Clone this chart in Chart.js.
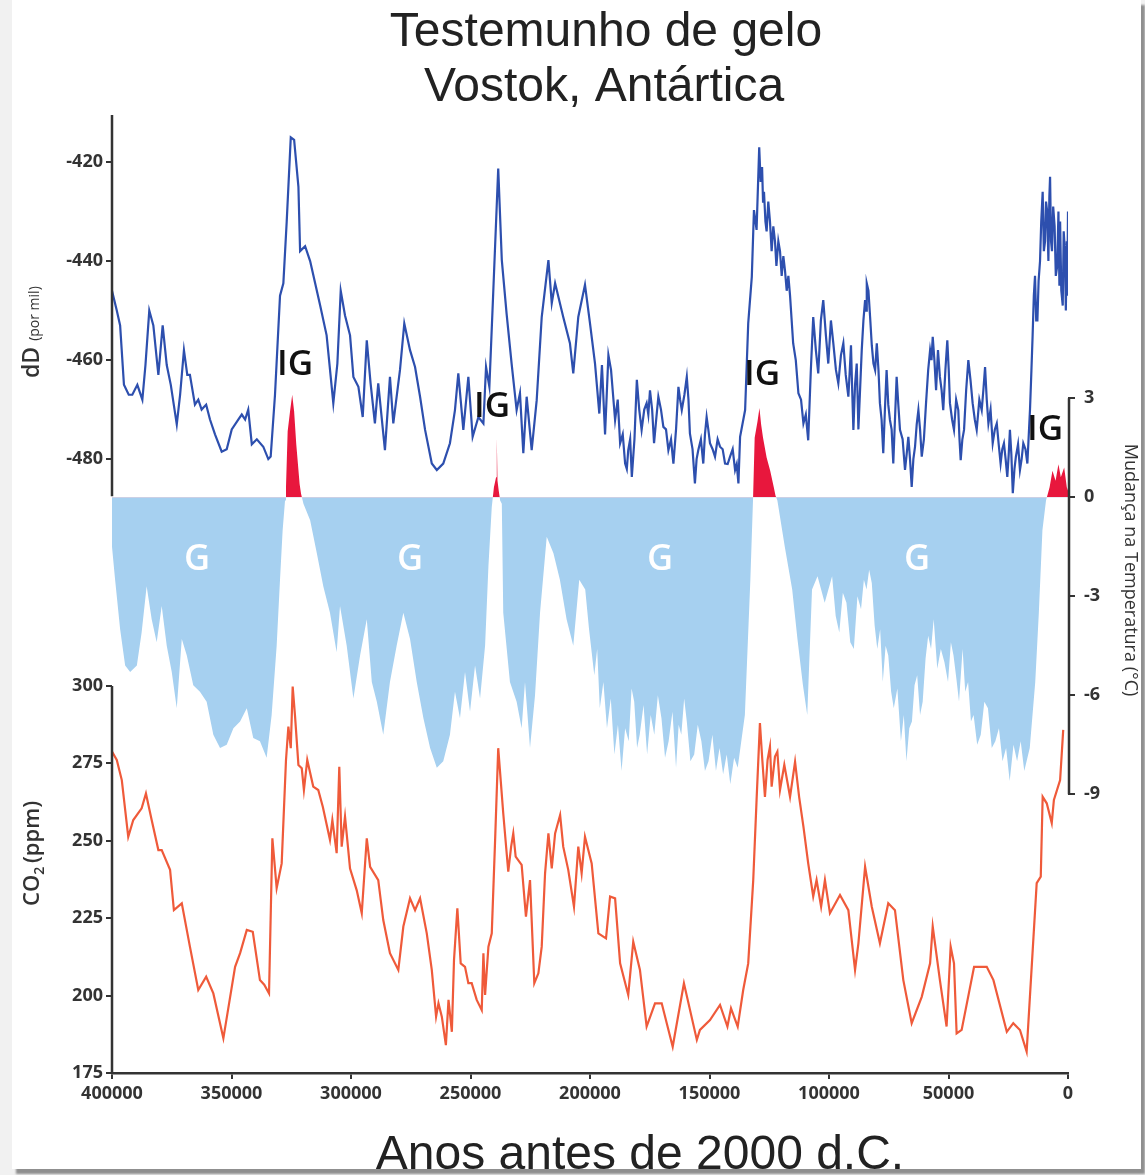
<!DOCTYPE html>
<html lang="pt">
<head>
    <meta charset="UTF-8">
    <title>Testemunho de gelo - Vostok, Antártica</title>
    <script src="https://cdn.jsdelivr.net/npm/chart.js"></script>
    <style>
        html, body { margin: 0; padding: 0; }
        body {
            width: 1145px;
            height: 1175px;
            background: #f1f1f1;
            position: relative;
            overflow: hidden;
        }
        .folha {
            position: absolute;
            left: 12px;
            top: 0;
            width: 1129px;
            height: 1169px;
            background: #fff;
            box-shadow: 4px 5px 2px #8f8f8f;
        }
        #grafico { position: absolute; left: 0; top: 0; }
    </style>
</head>
<body>
    <div class="folha"></div>
    <canvas id="grafico" width="1145" height="1175"></canvas>

    <script>
        // Deutério (dD, por mil) - anos em milhares antes de 2000
        const anosDD = [
            400, 398, 396.6, 395, 393, 391.5, 389.4, 387.3, 386, 384.4,
            382.7, 380.6, 378.8, 377.1, 375.4, 372.9, 371.5, 369.9, 368.5, 367.4,
            365.3, 363.9, 362.5, 360.6, 359, 356.9, 354.1, 352, 349.9, 347.1,
            345.7, 344.3, 343, 341.5, 339.4, 336.7, 334.6, 333.6, 331.8, 329.7,
            328.3, 326.9, 325.2, 323.8, 322, 321.3, 319.2, 317.1, 315, 312.9,
            310.2, 307.4, 305.7, 304.3, 302.5, 300.4, 299, 296.9, 295.1, 293.4,
            291.8, 290, 288.6, 285.8, 283.7, 282.3, 279.5, 277.7, 275.3, 273.2,
            271.1, 269, 266.2, 264.1, 261.4, 258.6, 256.5, 255.1, 253, 250.9,
            249.1, 246.7, 244.6, 243.5, 242.1, 240.5, 238.4, 236.9, 234.9, 232.8,
            230.7, 229.3, 227.9, 226.5, 224.4, 222.3, 220.2, 217.4, 216, 214.6,
            211.2, 208.4, 207, 204.9, 202.1, 200, 197.9, 196.1, 195, 193.7,
            192.3, 191.2, 189.5, 188.4, 187.4, 186.3, 185.3, 184.6, 184, 183.2,
            182.5, 181.4, 180.4, 179.4, 178.4, 177.3, 176.3, 175.6, 174.9, 174,
            173.2, 172.3, 171.4, 170.3, 169.3, 168.2, 167.2, 166.1, 165.1, 164,
            163, 162.3, 161.6, 160.5, 159.5, 158.8, 158.2, 157.1, 156.1, 155.4,
            154.7, 153.6, 152.6, 151.9, 151.2, 150.5, 149.8, 148.7, 147.7, 146.6,
            145.6, 144.5, 143.5, 142.4, 141.4, 140.3, 139.3, 138.6, 137.9, 137.2,
            135.1, 133.8, 132.3, 131.4, 130.3, 129.2, 128.6, 128, 127.6, 127.2,
            126.6, 126.1, 125.4, 124.7, 124, 123.3, 122.6, 122, 121.2, 120.5,
            119.8, 119.1, 118.4, 117.7, 117, 116.3, 115, 113.9, 112.8, 111.7,
            110.7, 109.7, 108.7, 107.6, 106.6, 105.5, 104.5, 103.4, 102.4, 101.3,
            100.3, 99.2, 98.2, 97.1, 96.1, 95, 94, 93, 91.9, 91.3,
            90.8, 90.3, 89.8, 89.1, 88.4, 88, 87.7, 87, 86.3, 85.6,
            84.9, 84.5, 84.2, 83.5, 82.8, 82.1, 81.4, 80.7, 80, 79.3,
            78.7, 78, 77.3, 76.6, 75.9, 75.2, 74.5, 73.8, 73.1, 72.4,
            71.7, 71, 70.3, 69.2, 68.2, 67.5, 66.8, 66.1, 65.4, 64.7,
            64, 63.3, 62.6, 61.9, 61.2, 60.3, 59.4, 58.5, 57.7, 57.1,
            56.6, 55.9, 55.2, 54.4, 53.6, 52.9, 52.2, 51.3, 50.5, 49.9,
            49.4, 48.5, 47.7, 46.8, 45.9, 45.4, 44.9, 44.2, 43.5, 42.6,
            41.7, 40.8, 39.9, 39, 38.2, 37.1, 36.1, 35.4, 34.7, 34,
            33.3, 32.4, 31.5, 30.6, 29.8, 29, 28.2, 27.5, 26.8, 26.1,
            25.4, 24.8, 24.3, 23.7, 23.1, 22.4, 21.8, 20.9, 20.1, 19.4,
            18.7, 17.8, 17, 15.9, 15.3, 14.8, 14.3, 13.8, 13.3, 12.8,
            12.3, 11.7, 11.2, 10.6, 10.1, 9.6, 9.2, 8.7, 8.2, 7.8,
            7.5, 7.1, 6.7, 6.2, 5.6, 5.1, 4.5, 4, 3.6, 3.3,
            2.8, 2.2, 1.8, 1.3, 0.9, 0.5, 0.3, 0];
        const valoresDD = [
            -446, -450, -453, -465, -467, -467, -465, -468, -461, -450,
            -453, -463, -453, -461, -465, -473, -467, -458, -463, -463,
            -469, -468, -470, -469, -472, -475, -478.5, -478, -474, -472,
            -471, -472, -470, -477, -476, -477.5, -480, -479.5, -467, -447,
            -444.5, -432, -415, -415.5, -425, -438, -437, -440, -444.5, -449,
            -455, -468.7, -460.7, -446, -451, -455, -463.4, -465.4, -471.5, -456,
            -464.7, -472.8, -464.7, -478.2, -463.4, -472.8, -462, -452.6, -458, -461.4,
            -467.4, -474.1, -480.9, -482.2, -480.9, -476.8, -470.1, -462.7, -474.1, -463.4,
            -475.5, -471.5, -472.8, -461.4, -465.4, -446.5, -421.3, -439.8, -450.6, -460.7,
            -470.1, -466.7, -478.8, -467.4, -478.2, -468.1, -451.3, -439.8, -448.5, -444.5,
            -451.3, -456.6, -462.7, -451.3, -444.8, -452.6, -460.7, -470.8, -461, -475,
            -459, -462, -472.1, -468, -476.8, -475, -480.9, -482, -478.2, -476,
            -483.6, -476, -464, -470, -474.1, -470, -468.7, -471, -466.1, -470,
            -476.8, -472, -467.4, -470, -473.5, -474, -478.2, -476, -480.9, -474,
            -465.4, -468, -470.1, -467, -463.4, -468, -474.8, -478, -484.9, -480,
            -478.2, -476, -480.9, -475, -471.5, -474, -476.8, -478, -479.5, -476,
            -477.5, -478, -480.9, -481, -479.5, -478, -482.2, -481, -484.9, -475.5,
            -470.1, -452.6, -443.2, -429.7, -433.7, -417, -424, -421, -428, -426,
            -432, -434, -428, -432, -438, -433, -436, -441, -436, -438,
            -443, -439, -442, -446, -443, -447, -456.6, -460, -466.7, -468,
            -472.8, -471, -476.2, -462, -451.3, -458, -462.7, -452, -447.9, -455,
            -460.7, -452, -456.6, -462, -464.7, -459, -456.6, -463, -467.4, -462,
            -457, -466, -474.1, -465, -460.7, -468, -474, -466, -458, -452,
            -447.9, -450, -444.5, -446, -451.3, -457, -460.7, -462, -456.6, -462,
            -468.7, -472, -478.8, -470, -462, -469, -472.1, -474, -480.9, -472,
            -463.4, -469, -474.1, -476, -482.2, -479, -475.5, -480, -485.6, -480,
            -477.5, -473, -470.1, -474, -479.5, -476, -468.7, -462, -458, -460,
            -455.3, -460, -466.1, -458, -463.4, -466, -470.1, -462, -456, -462,
            -468.7, -472, -474.1, -468, -470.1, -476, -480.2, -476, -474.1, -466,
            -460, -464, -468.7, -472, -474.1, -468, -470.1, -466, -461.4, -468,
            -472.8, -470, -476.8, -474, -472.8, -477, -480.9, -478, -476.8, -480,
            -483.6, -479, -474.1, -479, -486.9, -482, -479.5, -477, -482.2, -480,
            -476.8, -478, -480.9, -470, -462, -455, -447, -443, -452, -452,
            -444, -440, -432, -426, -438, -436, -428, -430, -440, -427,
            -423, -436, -438, -429, -433, -443, -441, -430, -445, -432,
            -446, -449, -434, -438, -450, -436, -447, -430];

        // Mudança na temperatura (°C)
        const anosTemp = [
            400, 398.7, 396.6, 394.5, 392.4, 389.6, 387.6, 385.5, 383.4, 381.3,
            379.2, 377.1, 375, 372.9, 370.8, 368.7, 366, 363.2, 360.4, 357.6,
            354.8, 352, 349.2, 346.4, 343.6, 340.9, 338.1, 335.3, 333.2, 331.1,
            329.7, 328.6, 327.6, 327.2, 326.5, 325.5, 324.6, 323.8, 322.9, 321.5,
            320.9, 319.9, 317.1, 314.3, 311.6, 308.8, 306, 304.6, 301.8, 299,
            296.2, 293.4, 291.3, 289.2, 286.5, 283.7, 280.9, 278.1, 275.3, 272.5,
            269.7, 266.9, 264.1, 261.4, 258.6, 256.5, 254.4, 252.3, 250.2, 248.1,
            246, 243.9, 242.5, 241.1, 240.2, 239.3, 239, 238.7, 238.2, 237.6,
            236.9, 236.3, 233.5, 230.7, 228.6, 227.2, 225.1, 223, 220.9, 218.1,
            215.3, 212.6, 209.8, 207, 204.5, 202, 200.4, 198.2, 197, 195.9,
            194.4, 192.9, 191.3, 189.8, 188.3, 186.8, 185.3, 183.8, 182.6, 181.5,
            180.3, 179.2, 177.6, 176.1, 174.6, 173.1, 171.6, 170.1, 168.6, 167.1,
            165.5, 164, 162.9, 161.8, 160.6, 159.5, 158, 156.4, 154.9, 153.4,
            151.9, 150.4, 148.8, 147.3, 145.8, 144.3, 142.8, 141.3, 139.7, 138.2,
            136.7, 135.2, 132.9, 131.8, 131.1, 129.9, 129.1, 128.4, 127.6, 126.1,
            124.6, 123.1, 122.4, 121.6, 118.5, 115.4, 113.2, 110.9, 109.1, 107.1,
            104.8, 101.8, 98.7, 97.2, 95.7, 94.2, 92.7, 91.1, 89.6, 88.1,
            86.6, 85.4, 84.3, 83.2, 82.1, 80.9, 79.8, 78.6, 77.5, 76.3,
            75.2, 74, 72.9, 71.4, 69.9, 68.7, 67.6, 66.4, 65.3, 64.2,
            63.1, 61.9, 60.8, 59.6, 58.5, 57.3, 56.2, 54.7, 53.2, 51.7,
            50.2, 49, 47.9, 46.7, 45.6, 44.1, 43, 41.8, 40.6, 39.5,
            38, 36.5, 35, 33.5, 31.9, 30.4, 28.9, 27.4, 25.9, 24.4,
            22.8, 21.3, 19.8, 18.3, 16, 13.7, 12.2, 10.7, 9.2, 7.7,
            6.5, 5.2, 4, 3, 1.6, 0.5, 0];
        const valoresTemp = [
            -1.5, -2.5, -4.0, -5.1, -5.3, -5.1, -4.1, -2.7, -3.7, -4.4,
            -3.3, -4.5, -5.3, -6.4, -4.3, -4.8, -5.7, -5.9, -6.2, -7.2,
            -7.6, -7.5, -7.0, -6.8, -6.4, -7.3, -7.4, -7.9, -6.6, -4.5,
            -2.5, -1.0, -0.1, 0.3, 2.0, 2.6, 3.1, 2.6, 1.6, 0.4,
            0.1, -0.2, -0.7, -1.7, -2.7, -3.5, -4.7, -3.3, -4.5, -6.1,
            -4.8, -3.7, -5.6, -6.2, -7.2, -5.6, -4.5, -3.5, -4.3, -5.6,
            -6.7, -7.6, -8.2, -8.0, -7.2, -5.9, -6.7, -5.3, -6.5, -5.1,
            -6.1, -4.5, -2.1, -0.3, 0.3, 0.6, 1.8, 0.5, 0.2, -0.1,
            -0.2, -3.5, -5.6, -6.2, -7.0, -5.6, -7.6, -6.0, -3.5, -1.2,
            -1.7, -2.5, -3.7, -4.5, -2.5, -2.8, -4.0, -5.4, -4.6, -6.4,
            -5.6, -7.0, -6.1, -7.8, -6.9, -8.3, -7.0, -7.4, -5.8, -6.2,
            -7.6, -7.2, -6.3, -7.8, -6.6, -7.2, -6.0, -6.7, -7.9, -7.4,
            -6.5, -8.2, -6.9, -7.2, -6.1, -6.8, -8.0, -7.8, -6.9, -7.4,
            -8.3, -8.0, -7.2, -8.3, -7.6, -8.4, -7.8, -8.7, -7.9, -8.2,
            -7.4, -6.6, -2.5, -0.1, 1.8, 2.3, 2.7, 2.2, 1.8, 1.2,
            0.8, 0.3, 0.05, -0.1, -1.5, -2.8, -4.3, -5.7, -6.6, -2.8,
            -2.4, -3.2, -2.4, -3.6, -4.1, -2.9, -3.2, -4.4, -4.6, -3.0,
            -3.4, -2.5, -2.8, -2.2, -2.6, -3.9, -4.6, -4.0, -5.6, -4.5,
            -4.8, -5.9, -6.4, -5.8, -7.4, -6.6, -8.0, -7.0, -6.8, -5.7,
            -5.4, -6.6, -6.2, -4.9, -4.2, -4.6, -3.7, -5.2, -4.6, -5.0,
            -5.6, -4.4, -4.8, -5.5, -6.2, -4.6, -5.9, -5.6, -6.8, -6.6,
            -7.5, -7.2, -6.2, -6.4, -7.6, -7.4, -7.0, -8.0, -7.6, -8.6,
            -7.5, -8.0, -7.4, -8.3, -7.6, -5.6, -3.5, -1.0, -0.1, 0.3,
            0.8, 0.5, 1.0, 0.6, 0.9, 0.3, 0.2];

        // CO2 (ppm)
        const anosCO2 = [400, 398, 395.9, 393.2, 391.1, 387.6, 385.8, 383.4, 380.6, 379.2, 375.7, 374.1, 370.8, 367.4, 363.9, 360.6, 357.6, 353.4, 348.5, 346.4,
            343.6, 341.1, 338.1, 336.3, 334.3, 332.9, 331.1, 329, 327.2, 326.2, 325.2, 324.4, 323.4, 322, 320.6, 319.7, 318.3, 315.8, 313.7, 311.8,
            308.8, 307.8, 306, 304.9, 303.9, 302.5, 300.4, 297.6, 295.5, 293.4, 292, 288.6, 286.5, 283.7, 280.2, 278.1, 275.3, 273.2, 271.1, 268.3,
            266.2, 264.4, 263.4, 262, 260.3, 259.2, 257.8, 256.9, 255.5, 254.1, 252.3, 250.9, 249.5, 247.4, 245.3, 244.6, 243.9, 242.5, 241.1, 239.7,
            238.4, 236.3, 234.2, 233, 232.1, 231.1, 228.6, 226.8, 225.1, 223.3, 221.6, 220.2, 218.8, 217.4, 216, 214.6, 212.5, 211.2, 209.1, 206.7,
            204.9, 203.5, 202.1, 199.3, 196.5, 193.3, 191.6, 189.5, 187.4, 184, 181.9, 179.1, 176.3, 172.8, 170, 165.4, 160.7, 155.3, 154, 149.8,
            145.6, 142.5, 141, 138.2, 135.9, 133.8, 131.7, 130.3, 128.9, 127.9, 126.8, 125.7, 124.7, 124, 122.6, 121.6, 120.5, 118.7, 116.3, 114.2,
            112.5, 110.7, 108.7, 106.6, 105.2, 103.3, 101.7, 99.6, 95.4, 91.9, 89.1, 87.7, 84.9, 82.1, 78.7, 75.2, 72.4, 68.9, 65.4, 61.2,
            57.7, 56.6, 53.6, 50.8, 49.1, 47.7, 46.6, 44.5, 39.3, 34, 31.2, 25.6, 22.9, 20.1, 17.3, 13.1, 11.4, 10.6, 8.9, 6.8,
            5.9, 3.3, 2];
        const valoresCO2 = [278.8, 276.1, 269.6, 251.3, 256.7, 260.5, 265.3, 256.7, 247, 247, 240.6, 227.6, 229.8, 215.8, 201.8, 206.1, 200.7, 186.2, 209.3, 213.7,
            221.2, 220.6, 205, 203.5, 200.7, 250.8, 234.7, 242.7, 276.1, 286.9, 279.9, 299.8, 290.1, 274.5, 273.4, 266.4, 276.1, 267.5, 266.4, 261,
            250.3, 256.7, 246, 273.9, 248.1, 257.8, 241, 234, 226.6, 250.8, 241.6, 237.3, 224.4, 213.7, 208.3, 222.3, 231.4, 227.6, 231.4, 220.1,
            208.3, 193.2, 197.5, 193.2, 184, 198.6, 188.3, 211.5, 228.2, 210.4, 209.3, 204, 204, 198.6, 195.3, 213.7, 200.2, 215.8, 220.1, 250.3,
            279.9, 258.9, 240, 248.1, 252.4, 244.9, 242.2, 225.5, 237.3, 204, 207.2, 215.8, 239.5, 252.4, 241.1, 252.4, 258.3, 248.1, 240.6, 228.7,
            248.1, 239.5, 251.3, 242.7, 220.1, 218.5, 232, 231.4, 210.4, 200.2, 217.4, 208.3, 190, 197.5, 197.5, 183.5, 204, 185.7, 188.9, 192.1,
            197, 190, 195.9, 190, 201.8, 210.4, 237.3, 263.2, 288, 276.1, 264.2, 276.1, 280.4, 267.5, 277.2, 278.8, 266.4, 274.5, 264.2, 275.5,
            264.2, 254.6, 242.7, 232, 237.3, 228.7, 237.3, 226.6, 232.5, 227.6, 208.3, 216.9, 241.6, 228.7, 216.9, 229.8, 227.6, 205, 191.1, 199.6,
            210.4, 222.3, 205, 190, 215.8, 210.4, 187.8, 188.9, 209.3, 209.3, 205, 188.3, 191.1, 188.9, 181.9, 236.3, 238.4, 264.2, 262.1, 255.7,
            263.2, 269.6, 285.8];

        const ticksAnos = [400000, 350000, 300000, 250000, 200000, 150000, 100000, 50000, 0];
        const ticksDD = [-420, -440, -460, -480];
        const ticksTemp = [3, 0, -3, -6, -9];
        const ticksCO2 = [175, 200, 225, 250, 275, 300];

        const pontos = (anos, valores) => anos.map((a, i) => ({ x: a * 1000, y: valores[i] }));
        const fixarTicks = lista => scale => { scale.ticks = lista.map(v => ({ value: v })); };

        const fonteTicks = { family: '"Open Sans", "DejaVu Sans", sans-serif', size: 18, weight: 'bold' };
        const corEixo = '#333';

        // o eixo de CO2 ocupa a mesma faixa à esquerda que o eixo dD
        const eixoCO2Plugin = {
            id: 'eixoCO2',
            afterLayout(chart) {
                const s = chart.scales.yCO2;
                s.left = chart.scales.yDD.left;
                s.width = s.right - s.left;
            }
        };

        // Textos, linhas de eixo parciais e rótulos IG / G
        const textosPlugin = {
            id: 'textos',
            afterDraw(chart) {
                const ctx = chart.ctx;
                const { x, yDD, yT, yCO2 } = chart.scales;
                const area = chart.chartArea;
                ctx.save();

                // linhas dos eixos verticais (só no trecho de cada painel)
                ctx.strokeStyle = corEixo;
                ctx.lineWidth = 2.5;
                ctx.beginPath();
                ctx.moveTo(yDD.right, area.top);
                ctx.lineTo(yDD.right, yDD.getPixelForValue(-487.5));
                ctx.moveTo(yCO2.right, yCO2.getPixelForValue(300));
                ctx.lineTo(yCO2.right, yCO2.getPixelForValue(175));
                ctx.moveTo(yT.left + 1, yT.getPixelForValue(3));
                ctx.lineTo(yT.left + 1, yT.getPixelForValue(-9));
                ctx.stroke();

                // título
                ctx.fillStyle = '#222';
                ctx.textAlign = 'center';
                ctx.textBaseline = 'middle';
                ctx.font = '48px "Liberation Sans", Arial, sans-serif';
                ctx.fillText('Testemunho de gelo', 606, 33);
                ctx.fillText('Vostok, Antártica', 604, 88);

                // título do eixo x
                ctx.fillText('Anos antes de 2000 d.C.', 640, 1156);

                // IG (interglacial)
                ctx.fillStyle = '#111';
                ctx.font = '600 35px "Open Sans", sans-serif';
                [[323.4, -461], [241, -469.5], [128, -463], [9.6, -474.1]].forEach(([a, v]) => {
                    ctx.fillText('IG', x.getPixelForValue(a * 1000), yDD.getPixelForValue(v));
                });

                // G (glacial)
                ctx.fillStyle = '#fff';
                ctx.font = '600 36px "Open Sans", sans-serif';
                [364.4, 275.3, 170.7, 63.2].forEach(a => {
                    ctx.fillText('G', x.getPixelForValue(a * 1000), yT.getPixelForValue(-1.9));
                });

                // título do eixo dD
                ctx.fillStyle = corEixo;
                ctx.textAlign = 'left';
                ctx.textBaseline = 'alphabetic';
                ctx.save();
                ctx.translate(39, 378);
                ctx.rotate(-Math.PI / 2);
                ctx.font = '600 23px "Open Sans", sans-serif';
                ctx.fillText('dD', 0, 0);
                let w = ctx.measureText('dD ').width;
                ctx.font = '14px "Open Sans", sans-serif';
                ctx.fillText('(por mil)', w, 0);
                ctx.restore();

                // título do eixo CO2
                ctx.save();
                ctx.translate(39, 906);
                ctx.rotate(-Math.PI / 2);
                ctx.font = '600 22px "Open Sans", sans-serif';
                ctx.fillText('CO', 0, 0);
                w = ctx.measureText('CO').width;
                ctx.font = '600 14px "Open Sans", sans-serif';
                ctx.fillText('2', w, 5);
                w += ctx.measureText('2 ').width;
                ctx.font = '600 22px "Open Sans", sans-serif';
                ctx.fillText('(ppm)', w, 0);
                ctx.restore();

                // título do eixo de temperatura
                ctx.save();
                ctx.translate(1125, 570);
                ctx.rotate(Math.PI / 2);
                ctx.textAlign = 'center';
                ctx.font = '18px "Open Sans", sans-serif';
                ctx.fillText('Mudança na Temperatura (°C)', 0, 0);
                ctx.restore();

                ctx.restore();
            }
        };

        const ctx = document.getElementById('grafico').getContext('2d');
        const grafico = new Chart(ctx, {
            type: 'line',
            data: {
                datasets: [
                    {
                        label: 'dD',
                        data: pontos(anosDD, valoresDD),
                        yAxisID: 'yDD',
                        borderColor: '#2d4fae',
                        borderWidth: 2.2,
                        pointRadius: 0,
                        tension: 0,
                        fill: false,
                        order: 1
                    },
                    {
                        label: 'CO2',
                        data: pontos(anosCO2, valoresCO2),
                        yAxisID: 'yCO2',
                        borderColor: '#ef5a3a',
                        borderWidth: 2.2,
                        pointRadius: 0,
                        tension: 0,
                        fill: false,
                        order: 2
                    },
                    {
                        label: 'Temperatura',
                        data: pontos(anosTemp, valoresTemp),
                        yAxisID: 'yT',
                        borderColor: 'rgba(0,0,0,0)',
                        borderWidth: 0,
                        pointRadius: 0,
                        tension: 0,
                        fill: { target: 'origin', above: '#e8173d', below: '#a6d0f0' },
                        order: 3
                    }
                ]
            },
            options: {
                responsive: false,
                animation: false,
                layout: { padding: { top: 115, left: 0, right: 0, bottom: 0 } },
                plugins: {
                    legend: { display: false },
                    tooltip: { enabled: false },
                    title: { display: false }
                },
                scales: {
                    x: {
                        type: 'linear',
                        reverse: true,
                        min: 0,
                        max: 400000,
                        afterBuildTicks: fixarTicks(ticksAnos),
                        afterFit: s => { s.height = 102; },
                        grid: { drawOnChartArea: false, tickLength: 6, color: corEixo, lineWidth: 2 },
                        border: { display: true, color: corEixo, width: 2.5 },
                        ticks: {
                            color: corEixo,
                            font: fonteTicks,
                            padding: 4,
                            maxRotation: 0,
                            autoSkip: false,
                            callback: v => String(v)
                        }
                    },
                    yDD: {
                        type: 'linear',
                        position: 'left',
                        weight: 1,
                        min: -604,
                        max: -410.5,
                        afterBuildTicks: fixarTicks(ticksDD),
                        afterFit: s => { s.width = 112; },
                        grid: { drawOnChartArea: false, tickLength: 6, color: corEixo, lineWidth: 2 },
                        border: { display: false },
                        ticks: { color: corEixo, font: fonteTicks, padding: 3 }
                    },
                    yCO2: {
                        type: 'linear',
                        position: 'left',
                        weight: 0,
                        min: 175,
                        max: 484.4,
                        afterBuildTicks: fixarTicks(ticksCO2),
                        afterFit: s => { s.width = 0; },
                        grid: { drawOnChartArea: false, tickLength: 6, color: corEixo, lineWidth: 2 },
                        border: { display: false },
                        ticks: { color: corEixo, font: fonteTicks, padding: 3 }
                    },
                    yT: {
                        type: 'linear',
                        position: 'right',
                        min: -17.45,
                        max: 11.58,
                        afterBuildTicks: fixarTicks(ticksTemp),
                        afterFit: s => { s.width = 77; },
                        grid: { drawOnChartArea: false, tickLength: 7, color: corEixo, lineWidth: 2 },
                        border: { display: false },
                        ticks: { color: corEixo, font: fonteTicks, padding: 9 }
                    }
                }
            },
            plugins: [eixoCO2Plugin, textosPlugin]
        });
    </script>
</body>
</html>
